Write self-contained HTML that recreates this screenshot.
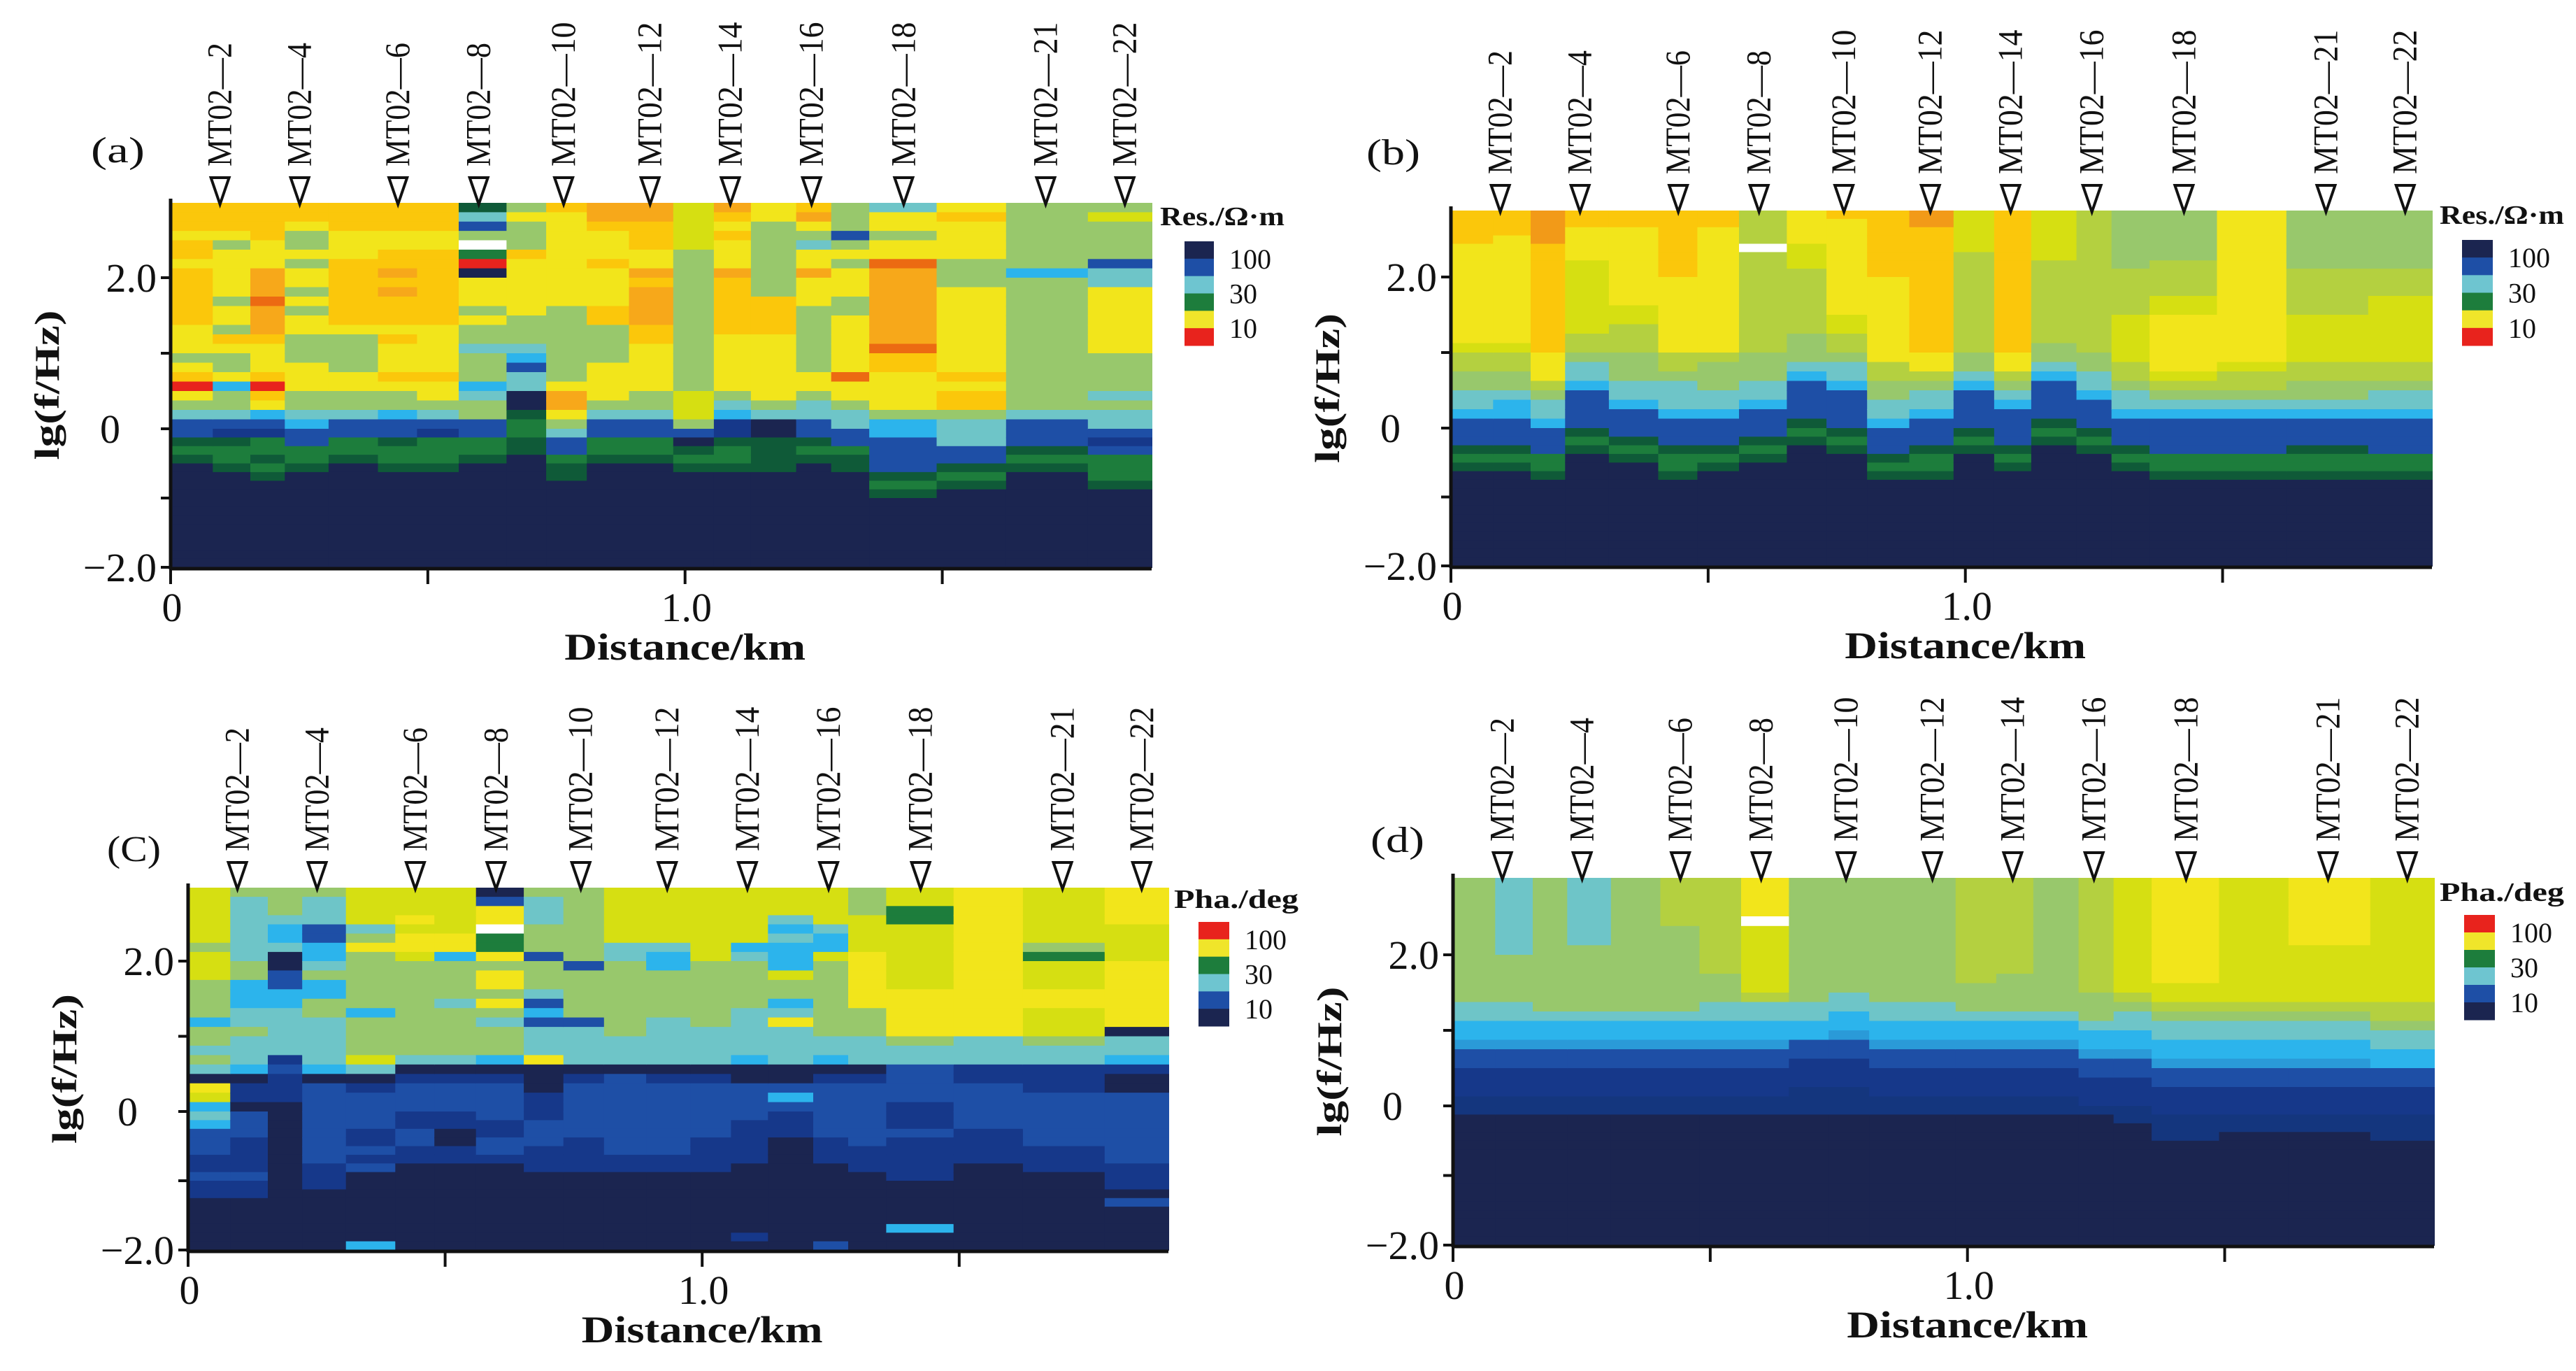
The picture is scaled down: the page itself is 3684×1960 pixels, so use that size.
<!DOCTYPE html>
<html>
<head>
<meta charset="utf-8">
<style>
html,body{margin:0;padding:0;background:#fff;}
svg{display:block;}
text{font-family:"Liberation Serif",serif;fill:#111;}
</style>
</head>
<body>
<svg id="fig" xmlns="http://www.w3.org/2000/svg" width="3684" height="1960" viewBox="0 0 3684 1960"></svg>
<script>
// ---------- data ----------
const colEdges = [0,0.082,0.155,0.222,0.307,0.403,0.479,0.560,0.653,0.730,0.809,0.891,0.977,1.056,1.128,1.216,1.284,1.358,1.489,1.624,1.783,1.907];
const stationKm = [0.096,0.251,0.442,0.599,0.764,0.932,1.088,1.246,1.425,1.701,1.855];
const stationNames = ["MT02—2","MT02—4","MT02—6","MT02—8","MT02—10","MT02—12","MT02—14","MT02—16","MT02—18","MT02—21","MT02—22"];
const yTicks = [2,1,0,-1,-2];
const yTickLabels = ["2.0","","0","","−2.0"];
const xTicks = [0,0.5,1.0,1.5];
const xTickLabels = ["0","","1.0",""];
const rowStep = 0.125; // lg(f) per row, rows start at lg f = 3
// row codes per column (top lg=3 downward), panel a: apparent resistivity (xy)
const colA = [
"OOOYOOYOOOOOOYYYlYOrYlTBBgGg",
"OOOYlYYYYYlYYlOYllYCllTBDgGGg",
"OOOOYYYoooRoooOYYYOrOYCBDGGgGgN",
"OOYllYlYYlYlYYlllYYYllTCBBGGg",
"OOOYYYOOOOOOOYllllYYllTBBGGg",
"OOOYYOOoOoOOOYOYYYOYllCBBgGGg",
"OOOYYOOOOOOOOYYYYYOYYlTBDGGGg",
"gTBlWGrNYYYlYllTlllCTllBBGGg",
"lYlllOYYYYYYlllTCBTTNNgGGgg",
"OYYYYYYYYYYllllllllYooYlTBBGgg",
"ooOYYYOYYYYOOllllYYYYlTBBGGg",
"ooOOOYYoOooooOOYYYYYllTBBGGg",
"yyyyylllllllllllllllyyylBNgGgN",
"oOYOYYYoOOOOOOYYYYYYlTCDDgGGg",
"YYllllllllOOOOYYYYYYYlTNNgggg",
"OoYlTYYoYYYlllllllYYlTTBBgGg",
"lllBlYlYYYllYYYYYYRYYlTTBBGgg",
"TYYlYYRooooooooROOYYYYlCCBBBBgGgN",
"YOYYYYlllYYYYYYYYYOYOOlTTTBBgGgN",
"lllllllCllllllllllllllTBBBgGgN",
"lyllllBTTYYYYYYYllllTlTTBDBGGGgN"
];
// panel b: apparent resistivity (yx)
const colB = [
"OOOOYYYYYYYYYYYyLLllTTCBBBgGgN",
"OOOYYYYYYYYYYYYyLLllTCCBBBgGgN",
"FFFFOOOOOOOOOOOOYYYLlTTCBBBGGgN",
"OOYYYYyyyyyyyyLLlTTCBBBBgGgN",
"OOYYYYYYYYYyyLLLlllTTCBBBgGgN",
"OOOOOOOOYYYYYYYYLLlTTTCBBBgGGgN",
"OOYYYYYYYYYYYYYYLlllTTCBBBgGgN",
"LLLLWLLLLLLLLLLLlllTTCBBBgGgN",
"YYYYyyyLLLLLLLlllTCBBBBgGgN",
"OYYYYYYYYYYYyyLLlTTCBBBBgGgN",
"OOOOOOOOYYYYYYYYYLLllTTCBBBgGgN",
"FFOOOOOOOOOOOOOOYYLlTTCBBBgGGgN",
"yyyyyLLLLLLLLLLLllTCBBBBgGgN",
"OOOOOOOOOOOOOOOOYYLlTCBBBBgGgN",
"yyyyyyLLLLLLLLLllTCBBBBgGgN",
"LLLLLLLLLLLLLLLLllTTCBBBgGgN",
"lllllllLLLLLyyyyyLLlTTCBBBgGgN",
"llllllLLLLyyYYYYYYyLlTCBBBBGGgN",
"YYYYYYYYYYYYYYYYYyLLlTCBBBBGGgN",
"lllllllLLLLLyyyyyLLllTCBBBgGGgN",
"lllllllLLLyyyyyyyLLlTTCBBBBGGgN"
];
// panel c: impedance phase (xy)
const colC = [
"yyyyyylyyyllllCllTlTNYyCTCBBBDDBDDNNNNNNNN",
"lTTTTTTTllCCCTTlTTTCNDDNBBBDDDDBDDNNNNNNNN",
"lllTCCTNNBBCCTTTTTDBDDDNNNNNNNNNNNNNNNNNNN",
"lTTTBBCCTlCCllTTTTTCNBBBBBBBBBDDDNNNNNNNNN",
"yyyyTlYllllllCllllyTNDBBBBDDBDBNNNNNNNNCNN",
"yyyYyYYyllllllllllTNDBBBDDBBDDNNNNNNNNNNN",
"yyyyyYYCllllTlllllTNDBBBDDNNDDNNNNNNNNNNN",
"NBYYWGGYlYYlYlTlllCNDBBBBDDBBDNNNNNNNNNNN",
"lTTTlllBlllTBCBTTTYNNNDDDBBBDDDNNNNNNNNNNN",
"llllllllBlllllBTTTTNDBBBBBBDDDDNNNNNNNNNNN",
"yyyyyyTTllllllllTTTNBBBBBBBBBDDNNNNNNNNNNN",
"yyyyyyTCClllllTTTTTNDBBBBBBBBDDNNNNNNNNNNN",
"yyyyyyyylllllllTTTTNDBBBBBBDDDDNNNNNNNNNNN",
"yyyyyyCTlllllTTTTTCNNBBBBDDDDDNNNNNNNNDNNN",
"yyyTCTCCCyllCTYTTTTNNBCBDDDNNNNNNNNNNNNNNN",
"yyyyTCCyllllllllTTCNDBBBBBBDDDNNNNNNNNNBNN",
"lllyyyyYYYYYYlllTTTNDBBBBBBBDDDNNNNNNNNNNN",
"yyGGyyyyyyyYYYYYlTTBBBBDDDBDDDDDNNNNNCNNNN",
"YYYYYYYYYYYYYYYYTTTDDBBBBBDDDDNNNNNNNNNNNN",
"yyyyyylGyyyYYyyylTTDDDBBBBBBDDDNNNNNNNNNNN",
"YYYYyyyyYYYYYYYNTTCDNNBBBBBBBBDDDNBNNNNNNN"
];
// panel d: impedance phase (yx)
const colD = [
"lllllllllllllTTCCcBBDDDddNNNNNNNNNNNNNNND",
"TTTTTTTTlllllTTCCcBBDDDddNNNNNNNNNNNNNNND",
"llllllllllllllTCCcBBDDDddNNNNNNNNNNNNNNND",
"TTTTTTTlllllllTCCcBBDDDddNNNNNNNNNNNNNNND",
"llllllllllllllTCCcBBDDDddNNNNNNNNNNNNNNND",
"LLLLLlllllllllTCCcBBDDDddNNNNNNNNNNNNNNND",
"LLLLLLLLLLlllTTCCcBBDDDddNNNNNNNNNNNNNNND",
"YYYYWyyyyyyyLTTCCcBBDDDddNNNNNNNNNNNNNNND",
"lllllllllllllTTCCBBDDDdddNNNNNNNNNNNNNNND",
"llllllllllllTTCCcBBDDDdddNNNNNNNNNNNNNNND",
"lllllllllllllTTCCcBBDDDddNNNNNNNNNNNNNNND",
"lllllllllllllTTCCcBBDDDddNNNNNNNNNNNNNNND",
"LLLLLLLLLLLlllTCCcBBDDDddNNNNNNNNNNNNNNND",
"LLLLLLLLLLllllTCCcBBDDDddNNNNNNNNNNNNNNND",
"llllllllllllllTCCcBBDDDddNNNNNNNNNNNNNNND",
"LLLLLLLLLLLLlllTCCcBBDDDdNNNNNNNNNNNNNNND",
"yyyyyyyyyyyyLlTTCCcBBDDDddNNNNNNNNNNNNNND",
"YYYYYYYYYYYyyLlTTCCcBBDDDdddNNNNNNNNNNNND",
"yyyyyyyyyyyyyLlTTCCcBBDDDddNNNNNNNNNNNNND",
"YYYYYYYyyyyyyLlTTCCcBBDDDddNNNNNNNNNNNNND",
"yyyyyyyyyyyyyLLlTTCCBBDDDdddNNNNNNNNNNNND"
];
const resLegendColors = ["#1b2550","#1e4fa6","#6ec5d0","#1d7d3c","#f0e52a","#e8231d"];
const resLegendLabels = ["100","30","10"];
const phaLegendColors = ["#e8231d","#f0e52a","#1d7d3c","#6ec5d0","#1e4fa6","#1b2550"];
const phaLegendLabels = ["100","30","10"];

// ---------- styling ----------
const palette = {N:"#1b2550",D:"#16388a",d:"#14367e",B:"#1e4fa6",c:"#2a9ad8",C:"#2cb4ec",T:"#6ec5c8",G:"#1d7d3c",g:"#0f5a38",
  l:"#98c86c",L:"#b4d040",y:"#d6df12",Y:"#f2e51b",O:"#fbc70b",o:"#f7a81a",F:"#f29a18",R:"#ec6a12",r:"#e8231d",W:"#ffffff"};
const NS = "http://www.w3.org/2000/svg";
const svg = document.getElementById('fig');
function mk(tag, parent){ const e=document.createElementNS(NS,tag); parent.appendChild(e); return e; }

const panels = [
 {id:"a",L:244,R:1647,T:290,y2:397,y0:613,B:811,cols:colA,legend:"Res./Ω·m",lc:resLegendColors,ll:resLegendLabels,
  sw:{x:1694,w:42,y0:345,y1:494},lt:{x:1659,y:322},lab:{x:130,y:232,t:"(a)"}},
 {id:"b",L:2075,R:3478,T:301,y2:396,y0:612,B:809,cols:colB,legend:"Res./Ω·m",lc:resLegendColors,ll:resLegendLabels,
  sw:{x:3521,w:44,y0:343,y1:494},lt:{x:3489,y:320},lab:{x:1954,y:235,t:"(b)"}},
 {id:"c",L:269,R:1671,T:1269,y2:1374,y0:1589,B:1787,cols:colC,legend:"Pha./deg",lc:phaLegendColors,ll:phaLegendLabels,
  sw:{x:1714,w:44,y0:1318,y1:1467},lt:{x:1679,y:1298},lab:{x:153,y:1231,t:"(C)"}},
 {id:"d",L:2078,R:3481,T:1255,y2:1365,y0:1581,B:1780,cols:colD,legend:"Pha./deg",lc:phaLegendColors,ll:phaLegendLabels,
  sw:{x:3524,w:44,y0:1308,y1:1458},lt:{x:3489,y:1288},lab:{x:1960,y:1218,t:"(d)"}}
];
const kmMax = colEdges[colEdges.length-1];

panels.forEach(p=>{
  const g = mk('g',svg);
  
  
  const xs = km => p.L + (km/kmMax)*(p.R-p.L);
  const ys = v => {
    if (v>=2) return p.y2 - (v-2)*(p.y2-p.T);
    if (v>=0) return p.y0 - v/2*(p.y0-p.y2);
    return p.y0 + (-v)/2*(p.B-p.y0);
  };
  // heatmap
  const hm = mk('g',g);
  
  
  p.cols.forEach((s,j)=>{
    const x0=xs(colEdges[j]), x1=xs(colEdges[j+1]);
    for(let i=0;i<40;i++){
      const ch = i<s.length ? s[i] : 'N';
      const top=3-i*rowStep, bot=top-rowStep;
      const r=mk('rect',hm);
      
      
      const yt=ys(top), yb=ys(bot);
      r.setAttribute('x',x0.toFixed(1)); r.setAttribute('y',yt.toFixed(1));
      r.setAttribute('width',(x1-x0+1).toFixed(1)); r.setAttribute('height',(yb-yt+1).toFixed(1));
      r.setAttribute('fill',palette[ch]||"#1b2550");
    }
  });
  // axes
  const ax=mk('g',g);
  
  
  const yl=mk('line',ax);  
  yl.setAttribute('x1',p.L);yl.setAttribute('x2',p.L);yl.setAttribute('y1',p.T-6);yl.setAttribute('y2',p.B+3);
  yl.setAttribute('stroke','#111');yl.setAttribute('stroke-width','5');
  const xl=mk('line',ax);  
  xl.setAttribute('x1',p.L-2);xl.setAttribute('x2',p.R);xl.setAttribute('y1',p.B+2);xl.setAttribute('y2',p.B+2);
  xl.setAttribute('stroke','#111');xl.setAttribute('stroke-width','5');
  yTicks.forEach((v,k)=>{
    const t=mk('line',ax);  
    t.setAttribute('x1',p.L-14);t.setAttribute('x2',p.L);t.setAttribute('y1',ys(v));t.setAttribute('y2',ys(v));
    t.setAttribute('stroke','#111');t.setAttribute('stroke-width','4');
    if(yTickLabels[k]){
      const tx=mk('text',ax);  
      const isZero = yTickLabels[k]==="0";
      tx.setAttribute('x', isZero ? p.L-72 : p.L-20);
      tx.setAttribute('y',ys(v)+20);
      tx.setAttribute('text-anchor','end');
      tx.setAttribute('font-size','58');
      tx.textContent=yTickLabels[k];
    }
  });
  xTicks.forEach((v,k)=>{
    const t=mk('line',ax);  
    t.setAttribute('x1',xs(v));t.setAttribute('x2',xs(v));t.setAttribute('y1',p.B);t.setAttribute('y2',p.B+24);
    t.setAttribute('stroke','#111');t.setAttribute('stroke-width','4');
    if(xTickLabels[k]){
      const tx=mk('text',ax);  
      tx.setAttribute('x',xs(v)+2);tx.setAttribute('y',p.B+77);tx.setAttribute('text-anchor','middle');
      tx.setAttribute('font-size','58');
      tx.textContent=xTickLabels[k];
    }
  });
  const xt=mk('text',ax);  
  xt.setAttribute('x',xs(1)); xt.setAttribute('y',p.B+132);
  xt.setAttribute('text-anchor','middle'); xt.setAttribute('font-size','54'); xt.setAttribute('font-weight','bold');
  xt.setAttribute('textLength','345'); xt.setAttribute('lengthAdjust','spacingAndGlyphs');
  xt.textContent="Distance/km";
  const yt=mk('text',ax);  
  const ycx=p.L-160, ycy=(p.T+p.B)/2;
  yt.setAttribute('x',ycx); yt.setAttribute('y',ycy); yt.setAttribute('text-anchor','middle');
  yt.setAttribute('transform','rotate(-90 '+ycx+' '+ycy+')');
  yt.setAttribute('font-size','50'); yt.setAttribute('font-weight','bold');
  yt.setAttribute('textLength','214'); yt.setAttribute('lengthAdjust','spacingAndGlyphs');
  yt.textContent="lg(f/Hz)";
  // panel label
  const pl=mk('text',g);  
  pl.setAttribute('x',p.lab.x);pl.setAttribute('y',p.lab.y);pl.setAttribute('font-size','52');
  pl.setAttribute('textLength','77'); pl.setAttribute('lengthAdjust','spacingAndGlyphs');
  pl.textContent=p.lab.t;
  // stations
  stationKm.forEach((km,k)=>{
    const sx=xs(km);
    const st=mk('g',g);  
    const tri=mk('polygon',st);  
    const ty=p.T-36;
    tri.setAttribute('points',(sx-13)+','+(ty)+' '+(sx+13)+','+(ty)+' '+sx+','+(p.T+2));
    tri.setAttribute('fill','#fff');tri.setAttribute('stroke','#111');tri.setAttribute('stroke-width','4');
    const lx=sx+16, ly=ty-16;
    const tx=mk('text',st);  
    tx.setAttribute('x',lx);tx.setAttribute('y',ly);
    tx.setAttribute('transform','rotate(-90 '+lx+' '+ly+')');
    tx.setAttribute('font-size','50');
    tx.setAttribute('textLength', String(stationNames[k].length*29.5));
    tx.setAttribute('lengthAdjust','spacingAndGlyphs');
    tx.textContent=stationNames[k];
  });
  // legend
  const lg=mk('g',g);  
  const lt=mk('text',lg);  
  lt.setAttribute('x',p.lt.x);lt.setAttribute('y',p.lt.y);lt.setAttribute('font-size','38');lt.setAttribute('font-weight','bold');
  lt.setAttribute('textLength','178'); lt.setAttribute('lengthAdjust','spacingAndGlyphs');
  lt.textContent=p.legend;
  const n=p.lc.length, h=(p.sw.y1-p.sw.y0)/n;
  p.lc.forEach((c,k)=>{
    const r=mk('rect',lg);  
    r.setAttribute('x',p.sw.x);r.setAttribute('y',p.sw.y0+k*h);r.setAttribute('width',p.sw.w);r.setAttribute('height',h+0.5);
    r.setAttribute('fill',c);
  });
  p.ll.forEach((s,k)=>{
    const tx=mk('text',lg);  
    tx.setAttribute('x',p.sw.x+p.sw.w+22);
    tx.setAttribute('y',p.sw.y0+h*(1+2*k)+14);
    tx.setAttribute('font-size','40');
    tx.setAttribute('textLength',s.length*20); tx.setAttribute('lengthAdjust','spacingAndGlyphs');
    tx.textContent=s;
  });
});
</script>
</body>
</html>
